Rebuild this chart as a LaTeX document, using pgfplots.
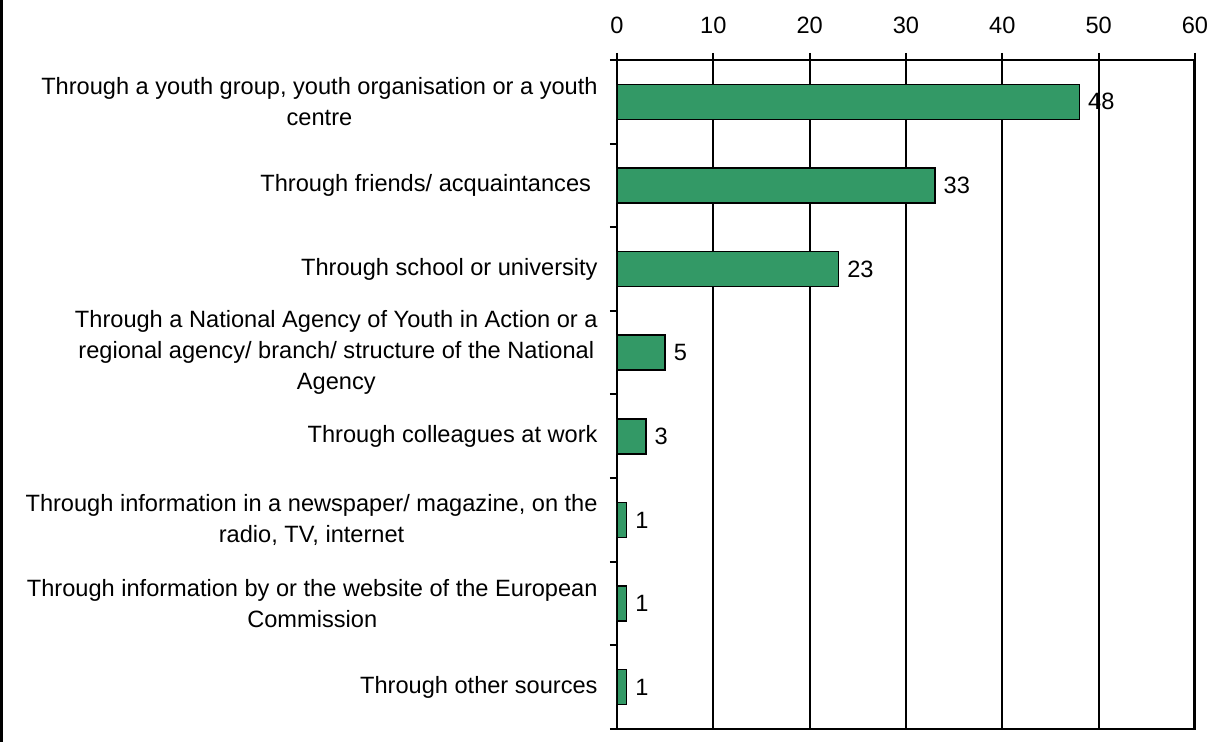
\documentclass[border=0pt]{standalone}
\usepackage{pgfplots}
\pgfplotsset{compat=1.18}
\usepackage{fontspec}
\setmainfont{Liberation Sans}
\definecolor{bargreen}{HTML}{339966}
\newcommand{\lblfont}{\fontsize{11.8}{15.5}\selectfont}
\begin{document}
\begin{tikzpicture}
\useasboundingbox (-308.5pt,-6.5pt) rectangle (302pt,364.5pt);
\draw[line width=1.5pt] (-307.75pt,-6.5pt) -- (-307.75pt,364.5pt);
\begin{axis}[
  at={(0,0)}, anchor=south west,
  scale only axis, width=289pt, height=334.5pt,
  xbar, bar width=17.5pt,
  xmin=0, xmax=60, xtick={0,10,...,60},
  ymin=-0.5, ymax=7.5, y dir=reverse,
  ytick={-0.5,0.5,...,7.5}, yticklabels={},
  extra y ticks={0,...,7},
  extra y tick labels={
    {Through a youth group, youth organisation or a youth\\centre},
    {Through friends/ acquaintances\ },
    {Through school or university},
    {Through a National Agency of Youth in Action or a\\regional agency/ branch/ structure of the National\\Agency},
    {Through colleagues at work},
    {Through information in a newspaper/ magazine, on the\\radio, TV, internet},
    {Through information by or the website of the European\\Commission},
    {Through other sources}},
  extra y tick style={major tick length=0pt, tick style={draw=none},
    yticklabel style={align=center, anchor=east, inner sep=0pt, xshift=-9.5pt}},
  major tick length=3.5pt,
  tick align=outside,
  xtick pos=upper, xticklabel pos=upper, ytick pos=left,
  xmajorgrids, grid style={black, line width=1pt},
  axis line style={line width=1pt},
  tick style={black, line width=1pt},
  every tick label/.append style={font=\lblfont},
  /pgf/number format/assume math mode=true,
  xticklabel style={anchor=south, inner sep=0pt, yshift=9.5pt},
  point meta=x,
  nodes near coords,
  nodes near coords style={anchor=west, inner sep=0pt, xshift=4pt, font=\lblfont, text=black},
]
\addplot[fill=bargreen, draw=black, line width=0.8pt] coordinates {
  (48,0) (33,1) (23,2) (5,3) (3,4) (1,5) (1,6) (1,7)};
\draw[line width=1.5pt] (axis cs:60,-0.5) -- (axis cs:60,7.5);
\end{axis}
\end{tikzpicture}
\end{document}
